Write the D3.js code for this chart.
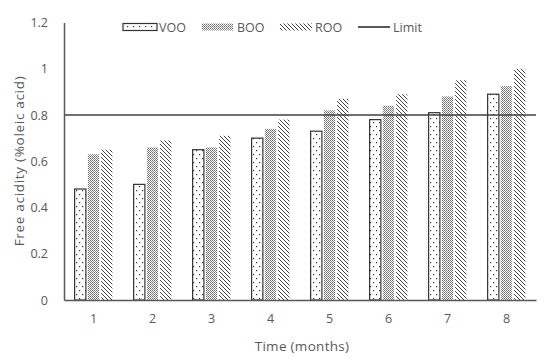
<!DOCTYPE html>
<html>
<head>
<meta charset="utf-8">
<script src="https://cdn.jsdelivr.net/npm/d3@7"></script>
<style>
  body { margin: 0; background: #fff; }
  svg { display: block; }
  text { font-family: "Open Sans", "Noto Sans", sans-serif; fill: #595959; }
</style>
</head>
<body>
<svg id="chart" width="550" height="360"></svg>
<script>
const months = ["1", "2", "3", "4", "5", "6", "7", "8"];
const seriesNames = ["VOO", "BOO", "ROO"];
const VOO = [0.48, 0.50, 0.65, 0.70, 0.73, 0.78, 0.81, 0.89];
const BOO = [0.63, 0.66, 0.66, 0.74, 0.82, 0.84, 0.88, 0.925];
const ROO = [0.65, 0.69, 0.71, 0.78, 0.87, 0.89, 0.95, 1.00];
const limitValue = 0.8;
const yTicks = [0, 0.2, 0.4, 0.6, 0.8, 1, 1.2];
const yTickLabels = ["0", "0.2", "0.4", "0.6", "0.8", "1", "1.2"];
const yTitle = "Free acidity (%oleic acid)";
const xTitle = "Time (months)";
const legendLabels = ["VOO", "BOO", "ROO", "Limit"];

const values = { VOO, BOO, ROO };

const svg = d3.select("#chart");
const mLeft = 64, mRight = 536, mTop = 22.5, mBottom = 300;

const defs = svg.append("defs");
// VOO: white with sparse dots
const pV = defs.append("pattern").attr("id", "pVOO").attr("patternUnits", "userSpaceOnUse")
  .attr("width", 6).attr("height", 8);
pV.append("rect").attr("width", 6).attr("height", 8).attr("fill", "#fff");
pV.append("rect").attr("x", 1).attr("y", 2).attr("width", 1.2).attr("height", 1.2).attr("fill", "#333");
pV.append("rect").attr("x", 4).attr("y", 6).attr("width", 1.2).attr("height", 1.2).attr("fill", "#333");
// BOO: dense stipple (checker)
const pB = defs.append("pattern").attr("id", "pBOO").attr("patternUnits", "userSpaceOnUse")
  .attr("width", 2).attr("height", 2);
pB.append("rect").attr("width", 2).attr("height", 2).attr("fill", "#fff");
pB.append("rect").attr("width", 1).attr("height", 1).attr("fill", "#6a6a6a");
pB.append("rect").attr("x", 1).attr("y", 1).attr("width", 1).attr("height", 1).attr("fill", "#8a8a8a");
// ROO: diagonal hatch "\\"
const pR = defs.append("pattern").attr("id", "pROO").attr("patternUnits", "userSpaceOnUse")
  .attr("width", 4).attr("height", 4);
pR.append("rect").attr("width", 4).attr("height", 4).attr("fill", "#fff");
pR.append("path").attr("d", "M-1,-1 L5,5 M3,-1 L5,1 M-1,3 L1,5")
  .attr("stroke", "#444").attr("stroke-width", 1.0);

const fills = { VOO: "url(#pVOO)", BOO: "url(#pBOO)", ROO: "url(#pROO)" };

const x0 = d3.scaleBand().domain(months).range([mLeft, mRight]).padding(0);
const step = x0.bandwidth();
const x1 = d3.scaleBand().domain(seriesNames)
  .range([step * 0.18, step * 0.82]).paddingInner(0.15);
const y = d3.scaleLinear().domain([0, 1.2]).range([mBottom, mTop]);

// bars
seriesNames.forEach(s => {
  svg.append("g").selectAll("rect")
    .data(months.map((m, i) => ({ m, v: values[s][i] })))
    .join("rect")
    .attr("x", d => x0(d.m) + x1(s))
    .attr("y", d => y(d.v))
    .attr("width", x1.bandwidth())
    .attr("height", d => y(0) - y(d.v))
    .attr("fill", fills[s])
    .attr("stroke", s === "VOO" ? "#333" : "none")
    .attr("stroke-width", 1.2);
});

// limit line
svg.append("line")
  .attr("x1", mLeft).attr("x2", mRight)
  .attr("y1", y(limitValue)).attr("y2", y(limitValue))
  .attr("stroke", "#404040").attr("stroke-width", 1.5);

// y axis
const yAxis = d3.axisLeft(y).tickValues(yTicks)
  .tickFormat((d, i) => yTickLabels[i]).tickSize(0).tickPadding(16);
const gy = svg.append("g").attr("transform", `translate(${mLeft},0)`).call(yAxis);
gy.select(".domain").attr("stroke", "#595959").attr("stroke-width", 1.5);
gy.selectAll("text").style("font-size", "12.5px").attr("fill", "#595959");

// x axis
const xAxis = d3.axisBottom(x0).tickSize(0).tickPadding(14);
const gx = svg.append("g").attr("transform", `translate(0,${mBottom})`).call(xAxis);
gx.select(".domain").attr("stroke", "#595959").attr("stroke-width", 1.5);
gx.selectAll("text").style("font-size", "12.5px").attr("fill", "#595959");

// titles
svg.append("text").attr("x", (mLeft + mRight) / 2 + 2).attr("y", 351)
  .attr("text-anchor", "middle").style("font-size", "13.5px")
  .style("letter-spacing", "0.3px").text(xTitle);
svg.append("text").attr("transform", "translate(24,161) rotate(-90)")
  .attr("text-anchor", "middle").style("font-size", "13.5px")
  .style("letter-spacing", "0.7px").text(yTitle);

// legend
const lg = svg.append("g");
const legendItems = [
  { sx: 123, sw: 34, tx: 159, type: "VOO" },
  { sx: 202, sw: 31, tx: 237, type: "BOO" },
  { sx: 280, sw: 32, tx: 315, type: "ROO" },
  { sx: 358, sw: 32, tx: 393, type: "Limit" }
];
legendItems.forEach((it, i) => {
  if (it.type === "Limit") {
    lg.append("line").attr("x1", it.sx).attr("x2", it.sx + it.sw)
      .attr("y1", 27).attr("y2", 27).attr("stroke", "#222").attr("stroke-width", 1.5);
  } else {
    lg.append("rect").attr("x", it.sx).attr("y", 23.5).attr("width", it.sw).attr("height", 7)
      .attr("fill", fills[it.type])
      .attr("stroke", it.type === "VOO" ? "#333" : "none").attr("stroke-width", 1.2);
  }
  lg.append("text").attr("x", it.tx).attr("y", 31.5)
    .style("font-size", "12.5px").attr("fill", "#595959").text(legendLabels[i]);
});
</script>
</body>
</html>
